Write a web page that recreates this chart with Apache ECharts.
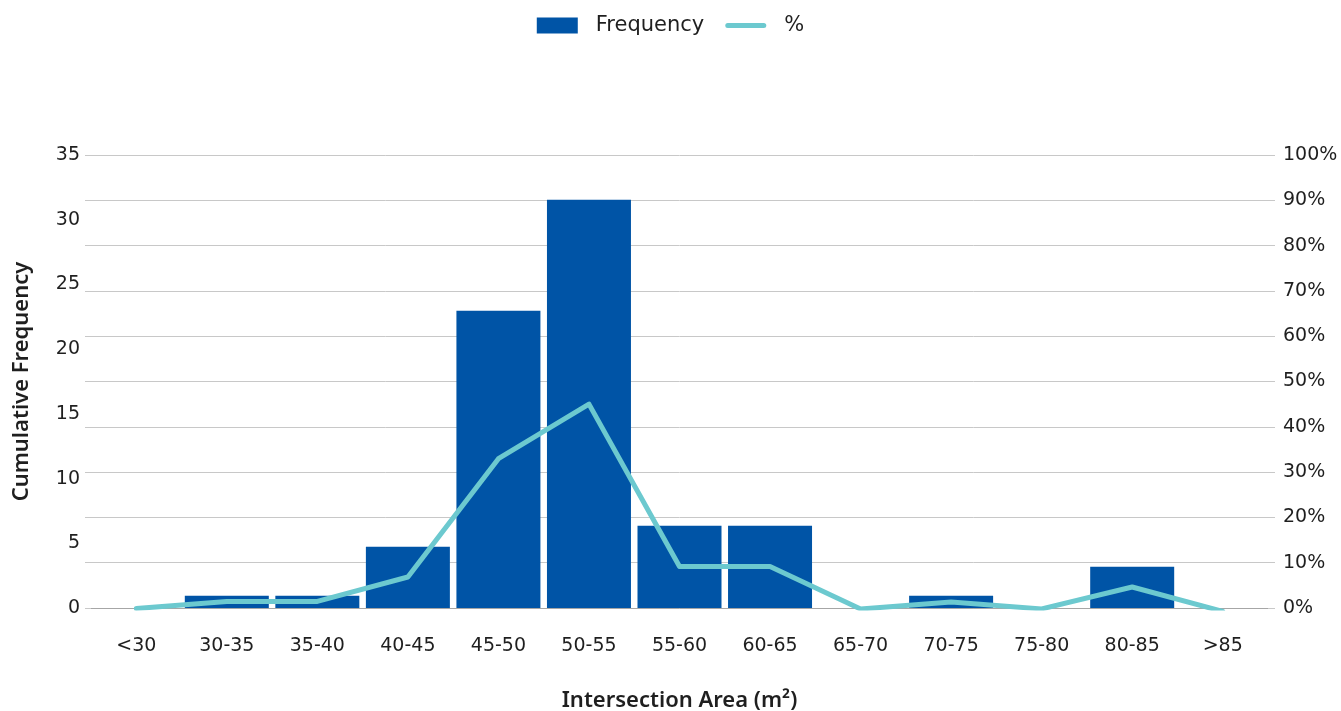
<!DOCTYPE html>
<html>
<head>
<meta charset="utf-8">
<script src="https://cdn.jsdelivr.net/npm/echarts@6/dist/echarts.min.js"></script>
<style>
html,body{margin:0;padding:0;background:#fff;}
#chart{width:1341px;height:711px;}
</style>
</head>
<body>
<div id="chart"></div>
<script>
const categories = ['<30','30-35','35-40','40-45','45-50','50-55','55-60','60-65','65-70','70-75','75-80','80-85','>85'];
const frequency = [0, 0.95, 0.95, 4.74, 22.97, 31.55, 6.36, 6.36, 0, 0.95, 0, 3.19, 0];
const percent = [-0.1, 1.46, 1.46, 6.84, 32.96, 45.0, 9.18, 9.18, -0.22, 1.32, -0.2, 4.64, -0.75];
const leftTicks = [0, 35, 5];
const rightTicks = [0, 100, 10];

const FONT = 'DejaVu Sans';
const TFONT = 'Noto Sans';
const TXT = '#1f1f1f';
const chart = echarts.init(document.getElementById('chart'));
chart.setOption({
  animation: false,
  textStyle: {fontFamily: FONT, color: TXT},
  legend: {
    top: 10, left: 'center',
    itemWidth: 41, itemHeight: 16, itemGap: 21,
    textStyle: {fontFamily: FONT, fontSize: 21, color: TXT, padding: [0, 0, 0, 13]},
    data: [
      {name: 'Frequency', icon: 'rect'},
      {name: '%', icon: 'path://M2.5,0 L38.5,0 A2.5,2.5 0 0 1 38.5,5 L2.5,5 A2.5,2.5 0 0 1 2.5,0 Z'}
    ]
  },
  grid: {left: 91, right: 73, top: 155, bottom: 103, containLabel: false, outerBoundsMode: 'none'},
  xAxis: {
    type: 'category', data: categories,
    axisTick: {show: false},
    axisLine: {lineStyle: {color: '#a6a6a6', width: 1}},
    axisLabel: {fontSize: 19, color: TXT, margin: 29, fontFamily: FONT},
    name: 'Intersection Area (m²)', nameLocation: 'middle', nameGap: 82,
    nameTextStyle: {fontSize: 22, fontWeight: 600, color: TXT, fontFamily: TFONT}
  },
  yAxis: [
    {
      type: 'value', position: 'left', min: leftTicks[0], max: leftTicks[1], interval: leftTicks[2],
      splitLine: {show: false}, axisTick: {show: false}, axisLine: {show: false},
      axisLabel: {fontSize: 19, color: TXT, margin: 11, fontFamily: FONT},
      name: 'Cumulative Frequency', nameLocation: 'middle', nameRotate: 90, nameGap: 58,
      nameTextStyle: {fontSize: 22, fontWeight: 600, color: TXT, fontFamily: TFONT}
    },
    {
      type: 'value', position: 'right', min: rightTicks[0], max: rightTicks[1], interval: rightTicks[2],
      splitLine: {show: true, lineStyle: {color: '#c8c8c8', width: 1}},
      axisTick: {show: true, length: 7, lineStyle: {color: '#c8c8c8'}},
      axisLine: {show: false},
      axisLabel: {fontSize: 19, color: TXT, margin: 15, formatter: '{value}%', fontFamily: FONT}
    },
    {
      type: 'value', position: 'left', min: rightTicks[0], max: rightTicks[1], interval: rightTicks[2],
      splitLine: {show: false},
      axisTick: {show: true, length: 6, lineStyle: {color: '#c8c8c8'}},
      axisLine: {show: false},
      axisLabel: {show: false}
    }
  ],
  series: [
    {
      name: 'Frequency', type: 'bar', data: frequency, yAxisIndex: 0,
      barWidth: 84,
      itemStyle: {color: '#0054a6'}
    },
    {
      name: '%', type: 'line', data: percent, yAxisIndex: 1,
      symbol: 'none',
      lineStyle: {color: '#6cc9cf', width: 5, cap: 'round', join: 'round'},
      itemStyle: {color: '#6cc9cf'}
    }
  ]
});
</script>
</body>
</html>
